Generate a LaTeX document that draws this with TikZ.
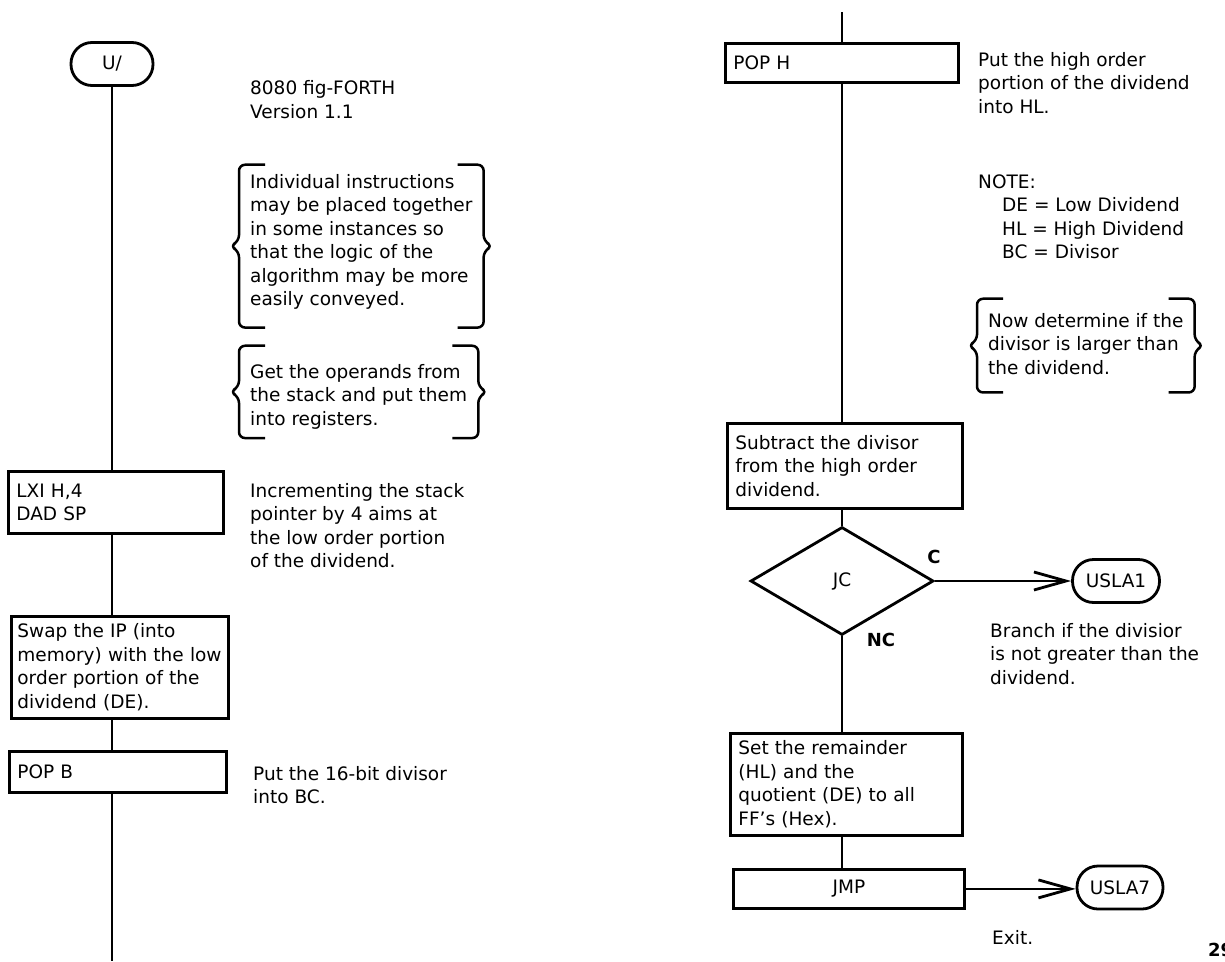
\documentclass[tikz,border=0pt]{standalone}
\usepackage{fontspec}
\setmainfont{DejaVu Sans}
\usetikzlibrary{arrows.meta, positioning, calc, shapes.geometric}
\tikzset{
  box/.style={draw, line width=2.8pt, anchor=north west, align=left, inner xsep=8pt, inner ysep=0pt},
  term/.style={draw, line width=2.8pt, rounded corners=21pt, minimum height=43pt, inner sep=0pt},
  test/.style={draw, diamond, line width=2.8pt, inner sep=0pt, minimum width=183pt, minimum height=108pt},
  note/.style={anchor=base west, align=left, inner sep=0pt},
  tag/.style={font=\fontsize{18}{22}\selectfont\bfseries, inner sep=0pt},
  flow/.style={line width=2.8pt},
  jump/.style={line width=2.8pt, -{Straight Barb[length=32pt, width=18pt]}},
  brace/.style={line width=2.5pt, rounded corners=6pt},
  every node/.style={font=\fontsize{18.5}{23.5}\selectfont}
}
\newcommand{\bracepair}[3]{%
  \coordinate (#1-tl) at ([shift={(-11pt,#2)}]#1.north west);
  \coordinate (#1-bl) at ([shift={(-11pt,-#3)}]#1.south west);
  \coordinate (#1-tr) at ([shift={(11pt,#2)}]#1.north east);
  \coordinate (#1-br) at ([shift={(11pt,-#3)}]#1.south east);
  \coordinate (#1-ml) at ($(#1-tl)!0.5!(#1-bl)$);
  \coordinate (#1-mr) at ($(#1-tr)!0.5!(#1-br)$);
  \draw[brace] ([xshift=26pt]#1-tl) -- (#1-tl) -- ([yshift=5pt]#1-ml) -- ([xshift=-9pt]#1-ml) -- ([yshift=-5pt]#1-ml) -- (#1-bl) -- ([xshift=26pt]#1-bl);
  \draw[brace] ([xshift=-26pt]#1-tr) -- (#1-tr) -- ([yshift=5pt]#1-mr) -- ([xshift=9pt]#1-mr) -- ([yshift=-5pt]#1-mr) -- (#1-br) -- ([xshift=-26pt]#1-br);
}

\begin{document}
\begin{tikzpicture}[x=1pt, y=-1pt]
    \useasboundingbox (0,0) rectangle (1225,961);

    \node[term, minimum width=82pt] (u) at (112,64) {U/};
    \node[note] (title) at (250,118) {8080 fig-FORTH\\Version 1.1};
    \node[note] (why) at (250,305.5) {Individual instructions\\may be placed together\\in some instances so\\that the logic of the\\algorithm may be more\\easily conveyed.};
    \bracepair{why}{9pt}{18pt}
    \node[note] (get) at (250,425) {Get the operands from\\the stack and put them\\into registers.};
    \bracepair{get}{18pt}{9pt}

    \node[box, minimum width=215pt, minimum height=62pt, text width=199pt] (lxi) at (7,470) {LXI H,4\\DAD SP};
    \node[note] (incr) at (250,567.5) {Incrementing the stack\\pointer by 4 aims at\\the low order portion\\of the dividend.};
    \node[box, minimum width=217pt, minimum height=102pt, text width=205pt, inner xsep=6pt] (swap) at (10,615) {Swap the IP (into\\memory) with the low\\order portion of the\\dividend (DE).};
    \node[box, minimum width=217pt, minimum height=41pt, text width=201pt] (popb) at (8,750) {POP B};
    \node[note] (putb) at (253,803.5) {Put the 16-bit divisor\\into BC.};
    \coordinate (lend) at (112,961);

    \draw[flow] (u) -- (u |- lxi.north);
    \draw[flow] (u |- lxi.south) -- (u |- swap.north);
    \draw[flow] (u |- swap.south) -- (u |- popb.north);
    \draw[flow] (u |- popb.south) -- (lend);

    \coordinate (rtop) at (842,12);
    \node[box, minimum width=233pt, minimum height=39pt, text width=217pt] (poph) at (724,42) {POP H};
    \node[note] (puth) at (978,113) {Put the high order\\portion of the dividend\\into HL.};
    \node[note] (regs) at (978,258.5) {NOTE:\\\hspace*{24pt}DE = Low Dividend\\\hspace*{24pt}HL = High Dividend\\\hspace*{24pt}BC = Divisor};
    \node[note] (cmp) at (988,374) {Now determine if the\\divisor is larger than\\the dividend.};
    \bracepair{cmp}{14pt}{18pt}

    \node[box, minimum width=235pt, minimum height=85pt, text width=219pt] (sub) at (726,422) {Subtract the divisor\\from the high order\\dividend.};
    \node[test] (jc) at (842,581) {JC};
    \node[tag] (cy) at (934,557) {C};
    \node[tag] (nc) at (881,640) {NC};
    \node[term, minimum width=87pt] (usla1) at (1116,581) {USLA1};
    \node[note] (branch) at (990,684) {Branch if the divisior\\is not greater than the\\dividend.};

    \node[box, minimum width=232pt, minimum height=102pt, text width=216pt] (set) at (729,732) {Set the remainder\\(HL) and the\\quotient (DE) to all\\FF's (Hex).};
    \node[box, align=center, minimum width=231pt, minimum height=39pt, text width=215pt] (jmp) at (732,868) {JMP};
    \node[term, minimum width=86pt] (usla7) at (1120,887.5) {USLA7};
    \node[note] (exit) at (992,944) {Exit.};
    \node[tag, anchor=west] (page) at (1208,950) {29};

    \draw[flow] (rtop) -- (rtop |- poph.north);
    \draw[flow] (rtop |- poph.south) -- (rtop |- sub.north);
    \draw[flow] (rtop |- sub.south) -- (jc.north);
    \draw[flow] (jc.south) -- (rtop |- set.north);
    \draw[flow] (rtop |- set.south) -- (rtop |- jmp.north);
    \draw[jump] (jc.east) -- (jc.east -| usla1.west);
    \draw[jump] (jmp.east) -- (jmp.east -| usla7.west);
\end{tikzpicture}
\end{document}
